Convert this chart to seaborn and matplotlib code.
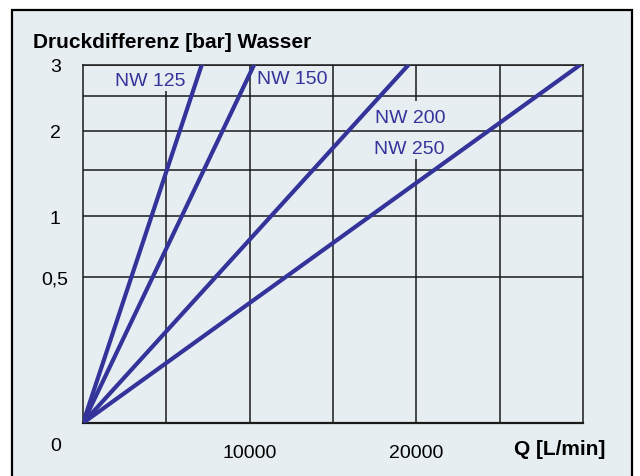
import numpy as np
import pandas as pd
import matplotlib
matplotlib.use("Agg")
import matplotlib.pyplot as plt
from matplotlib.patches import Rectangle
import seaborn as sns

# Kennlinien: Druckdifferenz (bar) ueber Durchfluss Q (L/min)
nennweiten = ["NW 125", "NW 150", "NW 200", "NW 250"]
q_bei_3bar = [7120, 10260, 19520, 29820]
dp_punkte = [0, 3]

y_ticks = [0.5, 1, 2, 3]
y_ticklabels = ["0,5", "1", "2", "3"]
y_grid = [0.5, 1, 1.5, 2, 2.5, 3]
x_ticks = [10000, 20000]
x_ticklabels = ["10000", "20000"]
x_grid = [5000, 10000, 15000, 20000, 25000]

bg = "#e7eef2"
blue = "#33339a"

rows = []
for nw, qmax in zip(nennweiten, q_bei_3bar):
    for dp in dp_punkte:
        rows.append({"NW": nw, "Q": qmax * np.sqrt(dp / 3), "dp": dp})
df = pd.DataFrame(rows)

sns.set_style("white")
plt.rcParams["font.family"] = ["Liberation Sans", "DejaVu Sans"]
plt.rcParams["text.color"] = "black"
plt.rcParams["xtick.color"] = "black"
plt.rcParams["ytick.color"] = "black"

fig = plt.figure(figsize=(6.4, 4.77), dpi=100)
fig.patch.set_facecolor("white")
fig.add_artist(Rectangle((12 / 640, -0.05), 620 / 640, 1.05 - 11 / 477,
                         transform=fig.transFigure, facecolor=bg,
                         edgecolor="black", lw=1.6, zorder=-1))

ax = fig.add_axes([83 / 640, 53 / 477, 500 / 640, 358 / 477])
ax.set_facecolor(bg)
ax.set_yscale("function", functions=(lambda y: np.sqrt(np.clip(y, 0, None)),
                                     lambda y: np.square(y)))
ax.set_xlim(0, 30000)
ax.set_ylim(0, 3)

# Gitter (mit Aussparungen hinter den Beschriftungen)
for y in y_grid:
    ax.axhline(y, color="#1a1a1a", lw=1.1, zorder=1)
for x in x_grid:
    if x == 5000:
        ax.vlines(x, 0, 2.58, color="#1a1a1a", lw=1.1, zorder=1)
    elif x == 20000:
        ax.vlines(x, 0, 1.63, color="#1a1a1a", lw=1.1, zorder=1)
        ax.vlines(x, 2.43, 3, color="#1a1a1a", lw=1.1, zorder=1)
    else:
        ax.vlines(x, 0, 3, color="#1a1a1a", lw=1.1, zorder=1)

sns.lineplot(data=df, x="Q", y="dp", hue="NW", palette=[blue] * 4,
             lw=3, legend=False, ax=ax, zorder=3, sort=False)

for s in ax.spines.values():
    s.set_color("#1a1a1a")
    s.set_linewidth(1.1)
ax.spines["bottom"].set_linewidth(1.6)

ax.set_yticks(y_ticks, y_ticklabels)
ax.set_xticks(x_ticks, x_ticklabels)
ax.minorticks_off()
ax.tick_params(axis="y", length=0, pad=20, labelsize=14)
ax.tick_params(axis="x", length=0, pad=15, labelsize=14)
for lab in ax.get_yticklabels():
    lab.set_horizontalalignment("center")
ax.set_xlabel("")
ax.set_ylabel("")

label_pos = {"NW 125": (4020, 2.74), "NW 150": (12540, 2.77),
             "NW 200": (19620, 2.18), "NW 250": (19560, 1.76)}
for nw in nennweiten:
    x, y = label_pos[nw]
    ax.text(x, y, nw, color=blue, fontsize=14, ha="center", va="center", zorder=2)

ax.annotate("0", xy=(0, 0), xytext=(-19.5, -16), textcoords="offset points",
            ha="center", va="center", fontsize=14)
ax.text(0.954, -0.072, "Q [L/min]", transform=ax.transAxes, ha="center",
        va="center", fontsize=15, fontweight="bold")
fig.text(33 / 640, 1 - 42 / 477, "Druckdifferenz [bar] Wasser", ha="left",
         va="center", fontsize=15, fontweight="bold")

fig.savefig("out.png", dpi=100, facecolor="white")
